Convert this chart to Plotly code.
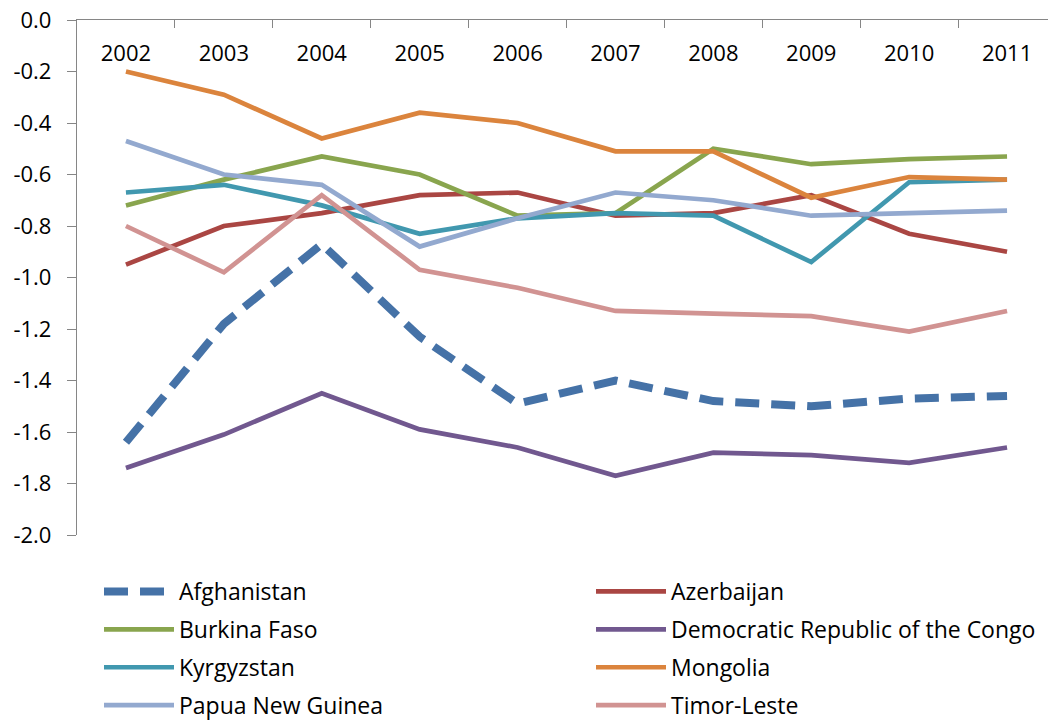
import plotly.graph_objects as go

years = ["2002", "2003", "2004", "2005", "2006", "2007", "2008", "2009", "2010", "2011"]

afghanistan = [-1.64, -1.18, -0.87, -1.23, -1.49, -1.40, -1.48, -1.50, -1.47, -1.46]
azerbaijan = [-0.95, -0.80, -0.75, -0.68, -0.67, -0.76, -0.75, -0.68, -0.83, -0.90]
burkina_faso = [-0.72, -0.62, -0.53, -0.60, -0.76, -0.75, -0.50, -0.56, -0.54, -0.53]
drc = [-1.74, -1.61, -1.45, -1.59, -1.66, -1.77, -1.68, -1.69, -1.72, -1.66]
kyrgyzstan = [-0.67, -0.64, -0.72, -0.83, -0.77, -0.75, -0.76, -0.94, -0.63, -0.62]
mongolia = [-0.20, -0.29, -0.46, -0.36, -0.40, -0.51, -0.51, -0.69, -0.61, -0.62]
papua_new_guinea = [-0.47, -0.60, -0.64, -0.88, -0.77, -0.67, -0.70, -0.76, -0.75, -0.74]
timor_leste = [-0.80, -0.98, -0.68, -0.97, -1.04, -1.13, -1.14, -1.15, -1.21, -1.13]

y_ticks = [0.0, -0.2, -0.4, -0.6, -0.8, -1.0, -1.2, -1.4, -1.6, -1.8, -2.0]
y_tick_text = ["0.0", "-0.2", "-0.4", "-0.6", "-0.8", "-1.0", "-1.2", "-1.4", "-1.6", "-1.8", "-2.0"]

FONT = "Open Sans"
FS = 22
LFS = 23
# (name, values, colour, width, dash, legend, x-axis)
series = [
    ("Afghanistan", afghanistan, "#4572A7", 8, "24px,12px", "legend", "x"),
    ("Azerbaijan", azerbaijan, "#AA4643", 4.7, "solid", "legend2", "x"),
    ("Burkina Faso", burkina_faso, "#89A54E", 4.7, "solid", "legend", "x"),
    ("Democratic Republic of the Congo", drc, "#71588F", 4.7, "solid", "legend2", "x"),
    ("Kyrgyzstan", kyrgyzstan, "#4198AF", 4.7, "solid", "legend", "x"),
    ("Mongolia", mongolia, "#DB843D", 4.7, "solid", "legend2", "x"),
    ("Papua New Guinea", papua_new_guinea, "#93A9CF", 4.7, "solid", "legend", "x"),
    ("Timor-Leste", timor_leste, "#D19392", 4.7, "solid", "legend2", "x2"),
]

# page has an 8px body margin; the figure is sized so it ends at the window edge
W, H = 1048, 712
OFF = 8

fig = go.Figure()
for name, vals, color, width, dash, leg, xa in series:
    fig.add_trace(go.Scatter(
        x=years, y=vals, name=name, mode="lines",
        line=dict(color=color, width=width, dash=dash),
        legend=leg, legendgroup=name, xaxis=xa, yaxis="y",
    ))

legend_common = dict(xref="container", yref="container", xanchor="left", yanchor="top",
                     orientation="v", tracegroupgap=5, itemwidth=70,
                     font=dict(size=LFS, family=FONT), bgcolor="rgba(0,0,0,0)")

fig.update_layout(
    width=W, height=H,
    margin=dict(l=77 - OFF, r=0, t=20 - OFF, b=H - (535 - OFF), autoexpand=False),
    paper_bgcolor="white", plot_bgcolor="white",
    font=dict(family=FONT, size=FS, color="black"),
    showlegend=True,
    legend=dict(x=(99 - OFF) / W, y=1 - (570 - OFF) / H, **legend_common),
    legend2=dict(x=(591 - OFF) / W, y=1 - (570 - OFF) / H, **legend_common),
    xaxis=dict(
        type="category", categoryarray=years, side="top", range=[-0.5, 9.5],
        showline=True, linecolor="#868686", linewidth=1.3,
        ticks="inside", tickson="boundaries", ticklen=8, tickcolor="#868686", tickwidth=1.3,
        showticklabels=False, showgrid=False, zeroline=False,
    ),
    xaxis2=dict(
        type="category", categoryarray=years,
        overlaying="x", anchor="free", position=(535 - 38) / 515, side="bottom",
        range=[-0.5, 9.5],
        showline=False, ticks="", showgrid=False, zeroline=False,
        tickfont=dict(size=FS, family=FONT), tickangle=0,
    ),
    yaxis=dict(
        range=[-2.0, 0.0], tickvals=y_ticks, ticktext=y_tick_text,
        showline=True, linecolor="#868686", linewidth=1.3,
        ticks="outside", ticklen=9, tickcolor="#868686", tickwidth=1.3,
        showgrid=False, zeroline=False, tickfont=dict(size=FS, family=FONT),
        ticklabelstandoff=11, ticklabeloverflow="allow",
    ),
)

fig.write_html("out.html")
